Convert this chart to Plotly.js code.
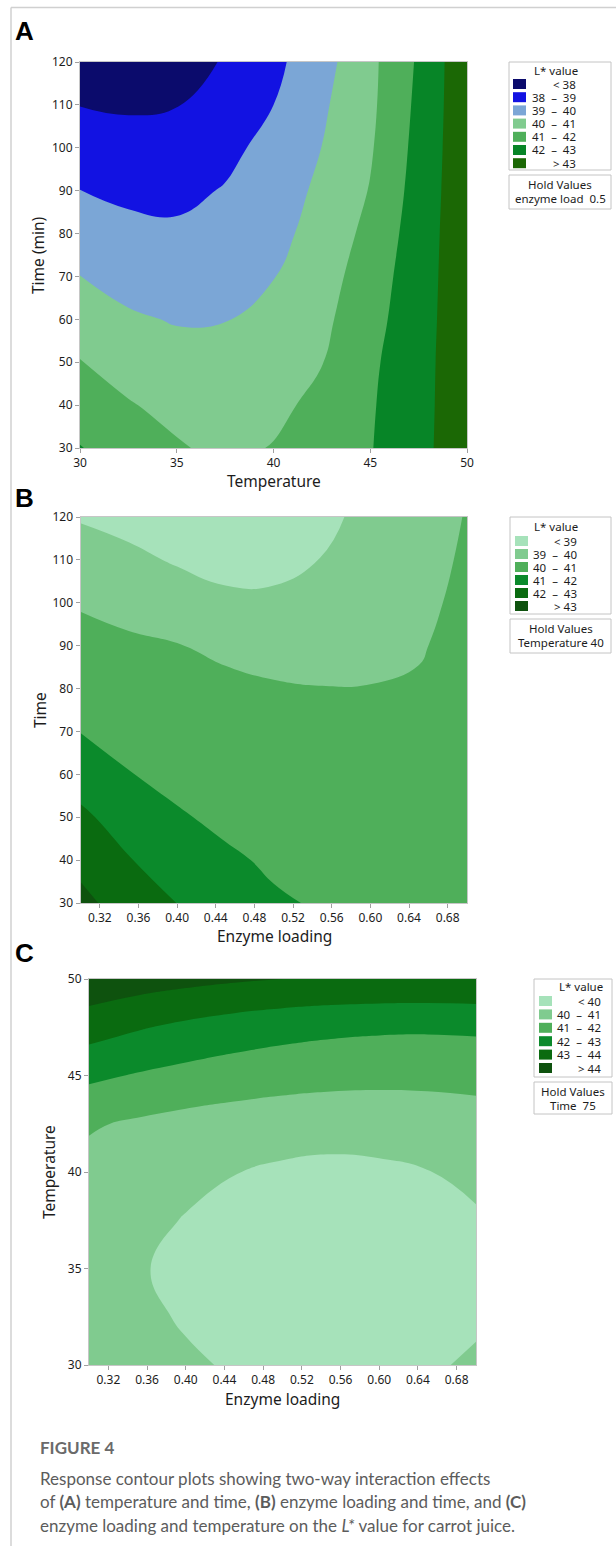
<!DOCTYPE html>
<html>
<head>
<meta charset="utf-8">
<script src="https://cdn.plot.ly/plotly-3.0.1.min.js"></script>
<style>
html, body { margin: 0; padding: 0; background: #ffffff; }
#chart { width: 616px; height: 1546px; }
</style>
</head>
<body>
<div id="chart"></div>
<script>
// ===================== DATA =====================
// Panel A : Temperature x Time (hold: enzyme load 0.5)
const tempA = [30, 32.5, 35, 37.5, 40, 42.5, 45, 47.5, 50];
const timeA = [30, 40, 50, 60, 70, 80, 90, 100, 110, 120];
const lvalA = [
  [42.04, 41.55, 41.10, 40.76, 41.05, 41.49, 41.95, 42.73, 43.60],
  [41.52, 41.07, 40.71, 40.50, 40.74, 41.29, 41.90, 42.70, 43.60],
  [41.04, 40.60, 40.33, 40.30, 40.50, 40.97, 41.82, 42.67, 43.61],
  [40.50, 40.12, 39.94, 39.97, 40.33, 40.78, 41.65, 42.62, 43.62],
  [40.01, 39.68, 39.55, 39.66, 39.97, 40.59, 41.49, 42.56, 43.64],
  [39.50, 39.25, 39.16, 39.29, 39.70, 40.38, 41.27, 42.49, 43.66],
  [39.01, 38.81, 38.77, 39.06, 39.58, 40.17, 41.05, 42.40, 43.68],
  [38.49, 38.35, 38.37, 38.74, 39.32, 40.01, 40.90, 42.31, 43.70],
  [37.98, 37.89, 37.97, 38.42, 39.00, 39.85, 40.80, 42.22, 43.72],
  [37.47, 37.43, 37.57, 38.08, 38.76, 39.64, 40.76, 42.13, 43.75]
];
const levelsA = [38, 39, 40, 41, 42, 43];
const labelsA = ['<\u00a038', '38\u00a0\u00a0\u2013\u00a0\u00a039', '39\u00a0\u00a0\u2013\u00a0\u00a040', '40\u00a0\u00a0\u2013\u00a0\u00a041',
                 '41\u00a0\u00a0\u2013\u00a0\u00a042', '42\u00a0\u00a0\u2013\u00a0\u00a043', '>\u00a043'];
const colorsA = ['#0b0b6c', '#1212e2', '#7ba6d6', '#80cb8f', '#4faf5a', '#078527', '#1b6805'];
const xTicksA = [30, 35, 40, 45, 50];
const yTicksA = [30, 40, 50, 60, 70, 80, 90, 100, 110, 120];
const holdA = ['Hold Values', 'enzyme load\u00a0\u00a00.5'];

// Panel B : Enzyme loading x Time (hold: Temperature 40)
const enzB = [0.30, 0.35, 0.40, 0.45, 0.50, 0.55, 0.60, 0.65, 0.70];
const timeB = [30, 40, 50, 60, 70, 80, 90, 100, 110, 120];
// rows = time, columns = enzyme loading
const lvalB = [
  [43.25, 42.57, 41.99, 41.52, 41.09, 40.93, 40.80, 40.70, 40.66],
  [42.74, 42.05, 41.54, 41.12, 40.89, 40.75, 40.64, 40.56, 40.58],
  [42.20, 41.54, 41.08, 40.84, 40.68, 40.56, 40.47, 40.43, 40.50],
  [41.55, 41.03, 40.79, 40.62, 40.48, 40.38, 40.31, 40.30, 40.42],
  [40.98, 40.72, 40.54, 40.39, 40.28, 40.20, 40.16, 40.17, 40.34],
  [40.62, 40.43, 40.29, 40.17, 40.08, 40.02, 40.02, 40.06, 40.27],
  [40.30, 40.14, 40.03, 39.85, 39.69, 39.70, 39.82, 39.95, 40.20],
  [39.92, 39.73, 39.49, 39.24, 39.20, 39.36, 39.65, 39.86, 40.14],
  [39.42, 39.21, 38.91, 38.64, 38.70, 39.03, 39.50, 39.79, 40.08],
  [38.93, 38.70, 38.33, 38.03, 38.21, 38.70, 39.35, 39.72, 40.03]
];
const levelsB = [39, 40, 41, 42, 43];
const labelsB = ['<\u00a039', '39\u00a0\u00a0\u2013\u00a0\u00a040', '40\u00a0\u00a0\u2013\u00a0\u00a041', '41\u00a0\u00a0\u2013\u00a0\u00a042',
                 '42\u00a0\u00a0\u2013\u00a0\u00a043', '>\u00a043'];
const colorsB = ['#a6e2ba', '#80cb8f', '#4faf5a', '#0b8a2b', '#0a6b10', '#0e520e'];
const xTicksB = [0.32, 0.36, 0.40, 0.44, 0.48, 0.52, 0.56, 0.60, 0.64, 0.68];
const xTickTextB = ['0.32', '0.36', '0.40', '0.44', '0.48', '0.52', '0.56', '0.60', '0.64', '0.68'];
const yTicksB = [30, 40, 50, 60, 70, 80, 90, 100, 110, 120];
const holdB = ['Hold Values', 'Temperature\u00a040'];

// Panel C : Enzyme loading x Temperature (hold: Time 75)
const enzC = [0.30, 0.35, 0.40, 0.45, 0.50, 0.55, 0.60, 0.65, 0.70];
const tempC = [30, 32.5, 35, 37.5, 40, 42.5, 45, 47.5, 50];
// rows = temperature, columns = enzyme loading
const lvalC = [
  [40.60, 40.32, 40.10, 39.93, 39.83, 39.79, 39.81, 39.89, 40.12],
  [40.45, 40.16, 39.93, 39.77, 39.66, 39.62, 39.64, 39.73, 39.87],
  [40.35, 40.06, 39.84, 39.68, 39.57, 39.53, 39.55, 39.63, 39.77],
  [40.45, 40.17, 39.97, 39.79, 39.70, 39.66, 39.69, 39.77, 39.92],
  [40.70, 40.38, 40.16, 40.02, 39.86, 39.78, 39.84, 39.98, 40.16],
  [41.10, 40.87, 40.68, 40.55, 40.44, 40.38, 40.40, 40.49, 40.60],
  [42.20, 41.93, 41.71, 41.53, 41.40, 41.31, 41.26, 41.25, 41.29],
  [43.45, 43.09, 42.79, 42.54, 42.35, 42.22, 42.15, 42.13, 42.17],
  [44.70, 44.47, 44.28, 44.12, 44.00, 43.92, 43.87, 43.86, 43.89]
];
const levelsC = [40, 41, 42, 43, 44];
const labelsC = ['<\u00a040', '40\u00a0\u00a0\u2013\u00a0\u00a041', '41\u00a0\u00a0\u2013\u00a0\u00a042', '42\u00a0\u00a0\u2013\u00a0\u00a043',
                 '43\u00a0\u00a0\u2013\u00a0\u00a044', '>\u00a044'];
const colorsC = ['#a6e2ba', '#80cb8f', '#4faf5a', '#0b8a2b', '#0a6b10', '#0e520e'];
const xTicksC = [0.32, 0.36, 0.40, 0.44, 0.48, 0.52, 0.56, 0.60, 0.64, 0.68];
const xTickTextC = ['0.32', '0.36', '0.40', '0.44', '0.48', '0.52', '0.56', '0.60', '0.64', '0.68'];
const yTicksC = [30, 35, 40, 45, 50];
const holdC = ['Hold Values', 'Time\u00a0\u00a075'];

const captionTitle = 'FIGURE 4';
const captionLines = [
  'Response contour plots showing two-way interaction effects',
  'of <b>(A)</b> temperature and time, <b>(B)</b> enzyme loading and time, and <b>(C)</b>',
  'enzyme loading and temperature on the <i>L*</i> value for carrot juice.'
];

// ===================== LAYOUT HELPERS =====================
const W = 616, H = 1546;
const px = x => x / W;
const py = y => 1 - y / H;
const FONT = 'Noto Sans, Open Sans, sans-serif';
const shapes = [];
const annotations = [];

function scaleFrom(colors) {
  const n = colors.length - 1;
  return colors.map((c, i) => [i / n, c]);
}

function contourTrace(x, y, z, levels, colors, xa, ya) {
  return {
    type: 'contour', x: x, y: y, z: z, xaxis: xa, yaxis: ya,
    autocontour: false,
    contours: { start: levels[0], end: levels[levels.length - 1], size: 1, coloring: 'fill', showlines: false },
    colorscale: scaleFrom(colors), showscale: false,
    line: { width: 0, smoothing: 1.3 },
    hoverinfo: 'skip'
  };
}

function axis(domain, anchor, range, tickvals, ticktext) {
  const a = {
    domain: domain, anchor: anchor, range: range,
    tickvals: tickvals, ticks: 'outside', ticklen: 4, tickwidth: 1, tickcolor: '#a0a0a0',
    showline: true, mirror: true, linecolor: '#c6c6c6', linewidth: 1,
    showgrid: false, zeroline: false, fixedrange: true,
    tickfont: { family: FONT, size: 12, color: '#1c1c1c' }
  };
  if (ticktext) a.ticktext = ticktext;
  return a;
}

function text(t, x, y, opts) {
  annotations.push(Object.assign({
    text: t, x: px(x), y: py(y), xref: 'paper', yref: 'paper',
    showarrow: false, xanchor: 'center', yanchor: 'middle',
    font: { family: FONT, size: 11.5, color: '#1c1c1c' }
  }, opts || {}));
}

function legendBox(g, labels, colors, hold) {
  shapes.push({ type: 'rect', xref: 'paper', yref: 'paper', x0: px(g.x0), x1: px(g.x1), y0: py(g.y0), y1: py(g.y1),
    line: { color: '#c4c4c4', width: 1 }, fillcolor: '#ffffff' });
  text('L* value', g.titleX, g.titleY);
  colors.forEach((c, i) => {
    const yc = g.itemY + g.step * i;
    shapes.push({ type: 'rect', xref: 'paper', yref: 'paper', x0: px(g.swX), x1: px(g.swX + 13), y0: py(yc + 5), y1: py(yc - 5),
      line: { width: 0 }, fillcolor: c });
    text(labels[i], g.labelR, yc, { xanchor: 'right' });
  });
  shapes.push({ type: 'rect', xref: 'paper', yref: 'paper', x0: px(g.x0), x1: px(g.x1), y0: py(g.h0), y1: py(g.h1),
    line: { color: '#c4c4c4', width: 1 }, fillcolor: '#ffffff' });
  const hc = (g.x0 + g.x1) / 2;
  text(hold[0], hc, g.h0 + 9.5);
  text(hold[1], hc, g.h0 + 23.5);
}

// ===================== TRACES =====================
const data = [
  contourTrace(tempA, timeA, lvalA, levelsA, colorsA, 'x', 'y'),
  contourTrace(enzB, timeB, lvalB, levelsB, colorsB, 'x2', 'y2'),
  contourTrace(enzC, tempC, lvalC, levelsC, colorsC, 'x3', 'y3')
];

// ===================== DECORATION =====================
// page frame lines
shapes.push({ type: 'line', xref: 'paper', yref: 'paper', x0: px(11), x1: px(616), y0: py(7.5), y1: py(7.5), line: { color: '#d0d0d0', width: 1.5 } });
shapes.push({ type: 'line', xref: 'paper', yref: 'paper', x0: px(11), x1: px(11), y0: py(7.5), y1: py(1546), line: { color: '#d0d0d0', width: 1.5 } });

// panel letters
const letterFont = { family: 'Liberation Sans, Arial, sans-serif', size: 26, color: '#000000', weight: 'bold' };
text('A', 24, 31, { font: letterFont });
text('B', 24, 498, { font: letterFont });
text('C', 24, 953, { font: letterFont });

// axis titles
const titleFont = { family: FONT, size: 15.5, color: '#1c1c1c' };
text('Temperature', 273.5, 481, { font: titleFont });
text('Time (min)', 38, 255, { font: titleFont, textangle: -90 });
text('Enzyme loading', 274, 936, { font: titleFont });
text('Time', 40, 710, { font: titleFont, textangle: -90 });
text('Enzyme loading', 282.5, 1399, { font: titleFont });
text('Temperature', 49, 1172, { font: titleFont, textangle: -90 });

// legends
legendBox({ x0: 509, x1: 611, y0: 62, y1: 170, titleX: 556, titleY: 70, itemY: 84, step: 13.2, swX: 513, labelR: 578, h0: 175, h1: 209 },
  labelsA, colorsA, holdA);
legendBox({ x0: 510, x1: 611, y0: 517, y1: 614, titleX: 556, titleY: 526, itemY: 541, step: 13, swX: 515, labelR: 579, h0: 619, h1: 653 },
  labelsB, colorsB, holdB);
legendBox({ x0: 534, x1: 612, y0: 979, y1: 1077, titleX: 581, titleY: 987, itemY: 1001, step: 13.4, swX: 539, labelR: 603, h0: 1082, h1: 1114 },
  labelsC, colorsC, holdC);

// caption
text(captionTitle, 38, 1447, { xanchor: 'left', font: { family: 'Lato, Open Sans, sans-serif', size: 17, color: '#6a6a6a', weight: 'bold' } });
captionLines.forEach((l, i) => {
  text(l, 38, 1478 + 23.5 * i, { xanchor: 'left', font: { family: 'Lato, Open Sans, sans-serif', size: 17, color: '#5c5c5c' } });
});

// ===================== LAYOUT =====================
const layout = {
  width: W, height: H,
  margin: { l: 0, r: 0, t: 0, b: 0 },
  paper_bgcolor: '#ffffff', plot_bgcolor: '#ffffff',
  showlegend: false,
  xaxis: axis([px(80), px(467)], 'y', [30, 50], xTicksA),
  yaxis: axis([py(448), py(62)], 'x', [30, 120], yTicksA),
  xaxis2: axis([px(80.5), px(467)], 'y2', [0.30, 0.70], xTicksB, xTickTextB),
  yaxis2: axis([py(903), py(517)], 'x2', [30, 120], yTicksB),
  xaxis3: axis([px(89), px(476)], 'y3', [0.30, 0.70], xTicksC, xTickTextC),
  yaxis3: axis([py(1365), py(979)], 'x3', [30, 50], yTicksC),
  shapes: shapes,
  annotations: annotations
};

Plotly.newPlot('chart', data, layout, { staticPlot: true, displayModeBar: false });
</script>
</body>
</html>
